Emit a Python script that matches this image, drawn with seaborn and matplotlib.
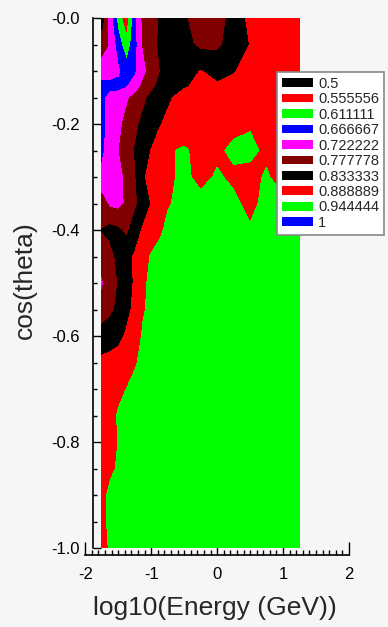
import numpy as np
import matplotlib
matplotlib.use("Agg")
import matplotlib.pyplot as plt
from matplotlib.patches import Patch
from matplotlib.ticker import MultipleLocator
import seaborn as sns

# grid (log10 E columns, cos(theta) rows)
log_energy = [-1.75, -1.625, -1.5, -1.375, -1.25, -1.125, -1.0, -0.875, -0.75,
              -0.5, -0.25, 0.0, 0.25, 0.5, 0.75, 1.0, 1.25]
cos_theta = [0.0, -0.05, -0.1, -0.13, -0.15, -0.2, -0.25, -0.3, -0.35, -0.4, -0.45,
             -0.5, -0.55, -0.6, -0.65, -0.7, -0.75, -0.8, -0.85, -0.9, -0.95, -1.0]
ratio = [
    [0.86, 0.75, 0.64, 0.57, 0.70, 0.79, 0.81, 0.835, 0.86, 0.84, 0.80, 0.80, 0.86, 0.90, 0.915, 0.915, 0.915],
    [0.80, 0.77, 0.69, 0.63, 0.70, 0.78, 0.81, 0.84, 0.86, 0.85, 0.82, 0.82, 0.86, 0.89, 0.915, 0.915, 0.915],
    [0.75, 0.745, 0.73, 0.69, 0.71, 0.76, 0.80, 0.83, 0.86, 0.875, 0.89, 0.875, 0.885, 0.91, 0.915, 0.915, 0.915],
    [0.70, 0.70, 0.705, 0.72, 0.75, 0.79, 0.82, 0.845, 0.865, 0.885, 0.90, 0.895, 0.905, 0.915, 0.915, 0.915, 0.915],
    [0.70, 0.745, 0.75, 0.77, 0.79, 0.82, 0.845, 0.86, 0.88, 0.91, 0.915, 0.91, 0.91, 0.91, 0.915, 0.915, 0.915],
    [0.70, 0.75, 0.765, 0.79, 0.82, 0.845, 0.865, 0.885, 0.90, 0.915, 0.915, 0.92, 0.93, 0.94, 0.93, 0.92, 0.915],
    [0.705, 0.755, 0.775, 0.80, 0.835, 0.87, 0.89, 0.91, 0.94, 0.95, 0.93, 0.935, 0.955, 0.955, 0.935, 0.92, 0.92],
    [0.74, 0.75, 0.765, 0.785, 0.825, 0.88, 0.91, 0.92, 0.935, 0.955, 0.93, 0.95, 0.935, 0.93, 0.95, 0.92, 0.93],
    [0.80, 0.765, 0.76, 0.785, 0.82, 0.86, 0.89, 0.905, 0.94, 0.96, 0.96, 0.955, 0.955, 0.93, 0.96, 0.96, 0.96],
    [0.835, 0.85, 0.84, 0.82, 0.86, 0.895, 0.91, 0.935, 0.955, 0.965, 0.965, 0.965, 0.965, 0.95, 0.965, 0.965, 0.965],
    [0.80, 0.81, 0.85, 0.87, 0.895, 0.92, 0.95, 0.96, 0.965, 0.965, 0.965, 0.965, 0.965, 0.965, 0.965, 0.965, 0.965],
    [0.77, 0.80, 0.835, 0.865, 0.895, 0.935, 0.955, 0.96, 0.965, 0.965, 0.965, 0.965, 0.965, 0.965, 0.965, 0.965, 0.965],
    [0.80, 0.82, 0.845, 0.875, 0.90, 0.94, 0.955, 0.96, 0.965, 0.965, 0.965, 0.965, 0.965, 0.965, 0.965, 0.965, 0.965],
    [0.86, 0.865, 0.875, 0.895, 0.92, 0.95, 0.96, 0.965, 0.965, 0.965, 0.965, 0.965, 0.965, 0.965, 0.965, 0.965, 0.965],
    [0.90, 0.905, 0.91, 0.92, 0.94, 0.955, 0.96, 0.965, 0.965, 0.965, 0.965, 0.965, 0.965, 0.965, 0.965, 0.965, 0.965],
    [0.90, 0.91, 0.93, 0.945, 0.955, 0.96, 0.965, 0.965, 0.965, 0.965, 0.965, 0.965, 0.965, 0.965, 0.965, 0.965, 0.965],
    [0.91, 0.925, 0.95, 0.96, 0.965, 0.965, 0.965, 0.965, 0.965, 0.965, 0.965, 0.965, 0.965, 0.965, 0.965, 0.965, 0.965],
    [0.91, 0.925, 0.945, 0.96, 0.965, 0.965, 0.965, 0.965, 0.965, 0.965, 0.965, 0.965, 0.965, 0.965, 0.965, 0.965, 0.965],
    [0.915, 0.935, 0.95, 0.96, 0.965, 0.965, 0.965, 0.965, 0.965, 0.965, 0.965, 0.965, 0.965, 0.965, 0.965, 0.965, 0.965],
    [0.93, 0.955, 0.96, 0.965, 0.965, 0.965, 0.965, 0.965, 0.965, 0.965, 0.965, 0.965, 0.965, 0.965, 0.965, 0.965, 0.965],
    [0.93, 0.955, 0.96, 0.965, 0.965, 0.965, 0.965, 0.965, 0.965, 0.965, 0.965, 0.965, 0.965, 0.965, 0.965, 0.965, 0.965],
    [0.925, 0.95, 0.96, 0.965, 0.965, 0.965, 0.965, 0.965, 0.965, 0.965, 0.965, 0.965, 0.965, 0.965, 0.965, 0.965, 0.965],
]

levels = [0.5, 0.555556, 0.611111, 0.666667, 0.722222, 0.777778, 0.833333, 0.888889, 0.944444, 1.0]
level_labels = ['0.5', '0.555556', '0.611111', '0.666667', '0.722222',
                '0.777778', '0.833333', '0.888889', '0.944444', '1']
level_colors = ['#000000', '#ff0000', '#00ff00', '#0000ff', '#ff00ff',
                '#800000', '#000000', '#ff0000', '#00ff00', '#0000ff']

x_ticks = [-2, -1, 0, 1, 2]
x_tick_labels = ['-2', '-1', '0', '1', '2']
y_ticks = [0.0, -0.2, -0.4, -0.6, -0.8, -1.0]
y_tick_labels = ['-0.0', '-0.2', '-0.4', '-0.6', '-0.8', '-1.0']

sns.set_theme(style="ticks")
plt.rcParams['font.family'] = ['Liberation Sans', 'DejaVu Sans']

bg = '#f6f6f6'
fig = plt.figure(figsize=(3.88, 6.27), dpi=100, facecolor=bg)
ax = fig.add_axes([85.3 / 388, 1 - 548 / 627, 263.7 / 388, 530 / 627])
ax.set_facecolor(bg)

ax.contourf(log_energy, cos_theta, np.array(ratio), levels=levels,
            colors=level_colors[:-1], antialiased=False)

ax.set_xlim(-2, 2)
ax.set_ylim(-1, 0)
sns.despine(ax=ax)
ax.spines['left'].set_position(('outward', -5.3))
ax.spines['bottom'].set_position(('outward', 5))
for s in ['left', 'bottom']:
    ax.spines[s].set_linewidth(1.2)
    ax.spines[s].set_color('black')

ax.set_xticks(x_ticks, x_tick_labels)
ax.set_yticks(y_ticks, y_tick_labels)
ax.xaxis.set_minor_locator(MultipleLocator(0.1))
ax.yaxis.set_minor_locator(MultipleLocator(0.05))
ax.tick_params(axis='x', which='major', direction='in', length=9.4, width=1, pad=8.5,
               labelsize=12, colors='black', bottom=True)
ax.tick_params(axis='x', which='minor', direction='in', length=3.8, width=1,
               colors='black', bottom=True)
ax.tick_params(axis='y', which='major', direction='in', length=5.8, width=1, pad=9,
               labelsize=12, colors='black', left=True)
ax.tick_params(axis='y', which='minor', direction='in', length=3.2, width=1,
               colors='black', left=True)

ax.set_xlabel('log10(Energy (GeV))', fontsize=19, va='center')
ax.xaxis.set_label_coords(0.49, -0.113)
ax.set_ylabel('cos(theta)', fontsize=19, va='center')
ax.yaxis.set_label_coords((25 - 85.3) / 263.7, (548 - 280) / 530)

handles = [Patch(facecolor=c, edgecolor='none') for c in level_colors]
leg = fig.legend(handles, level_labels, loc='upper left',
                 bbox_to_anchor=(276.7 / 388, 1 - 71.7 / 627), fontsize=10.5,
                 frameon=True, fancybox=False, edgecolor='#888888', facecolor='white',
                 framealpha=1, handlelength=2.15, handleheight=0.55, handletextpad=0.35,
                 labelspacing=0.1, borderpad=0.35, borderaxespad=0)
leg.get_frame().set_linewidth(1.2)

fig.savefig('out.png', dpi=100, facecolor=bg)
